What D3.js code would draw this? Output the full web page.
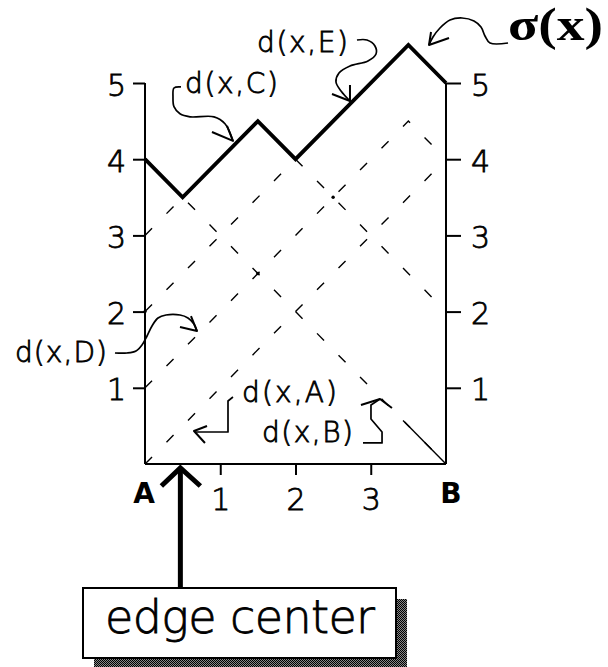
<!DOCTYPE html>
<html>
<head>
<meta charset="utf-8">
<script src="https://cdn.jsdelivr.net/npm/d3@7"></script>
<style>
  html, body { margin: 0; padding: 0; background: #fff; }
  svg { display: block; }
  text { font-family: "DejaVu Sans", "Liberation Sans", sans-serif; fill: #000; }
  .thin { font-weight: 200; stroke: #000; stroke-width: 0.8px; }
</style>
</head>
<body>
<svg id="chart" width="608" height="667"></svg>
<script>
// Distance functions along edge AB, each as [x, distance] vertices
const dA = [[0, 0], [4, 4]];
const dB = [[0, 4], [4, 0]];
const dC = [[0, 3], [1.5, 4.5], [4, 2]];
const dD = [[0, 1], [3.5, 4.5], [4, 4]];
const dE = [[0, 2], [3.5, 5.5], [4, 5]];
// Upper envelope sigma(x)
const sigma = [[0, 4], [0.5, 3.5], [1.5, 4.5], [2, 4], [3.5, 5.5], [4, 5]];
// Tail of d(x,B) drawn solid
const dBTail = [[3.45, 0.55], [4, 0]];
// Marked crossings
const crossings = [[1.5, 2.5], [2.5, 3.5], [0, 2]];
// Tick values
const yTicks = [1, 2, 3, 4, 5];
const xTicks = [1, 2, 3];
// Position of the edge center along AB
const edgeCenterX = 0.47;

const svg = d3.select("#chart");
const x = d3.scaleLinear().domain([0, 4]).range([145, 446]);
const y = d3.scaleLinear().domain([0, 5]).range([464, 83]);
const line = d3.line().x(d => x(d[0])).y(d => y(d[1]));

// dashed distance functions
const dashed = svg.append("g")
  .attr("fill", "none").attr("stroke", "#000")
  .attr("stroke-width", 1.4).attr("stroke-dasharray", "10,20.6");
[dA, dB, dC, dD, dE].forEach(s => dashed.append("path").attr("d", line(s)));

svg.append("path").attr("d", line(dBTail))
  .attr("fill", "none").attr("stroke", "#000").attr("stroke-width", 1.4);

svg.append("g").selectAll("circle").data(crossings).join("circle")
  .attr("cx", d => x(d[0])).attr("cy", d => y(d[1])).attr("r", 1.7).attr("fill", "#000");

// axes
const axisStyle = g => {
  g.select(".domain").remove();
  g.selectAll(".tick line").attr("stroke", "#000").attr("stroke-width", 2);
  g.selectAll(".tick text").attr("fill", "#000").attr("class", "thin")
    .attr("font-family", "DejaVu Sans, sans-serif").attr("font-size", 30);
};
svg.append("g").attr("transform", `translate(${x(0)},0)`)
  .call(d3.axisLeft(y).tickValues(yTicks).tickSize(12).tickPadding(7).tickFormat(d3.format("d")))
  .call(axisStyle)
  .call(g => g.selectAll(".tick text").attr("dy", "0.4em"));
svg.append("g").attr("transform", `translate(${x(4)},0)`)
  .call(d3.axisRight(y).tickValues(yTicks).tickSize(15).tickPadding(10).tickFormat(d3.format("d")))
  .call(axisStyle)
  .call(g => g.selectAll(".tick text").attr("dy", "0.4em"));
svg.append("g").attr("transform", `translate(0,${y(0)})`)
  .call(d3.axisBottom(x).tickValues(xTicks).tickSize(11).tickPadding(14).tickFormat(d3.format("d")))
  .call(axisStyle);

const frame = svg.append("g").attr("stroke", "#000").attr("stroke-width", 2).attr("fill", "none");
frame.append("line").attr("x1", x(0)).attr("x2", x(0)).attr("y1", y(0)).attr("y2", y(5));
frame.append("line").attr("x1", x(4)).attr("x2", x(4)).attr("y1", y(0)).attr("y2", y(5));
frame.append("line").attr("x1", x(0)).attr("x2", x(4)).attr("y1", y(0)).attr("y2", y(0));

// sigma(x)
svg.append("path").attr("d", line(sigma))
  .attr("fill", "none").attr("stroke", "#000").attr("stroke-width", 3.8)
  .attr("stroke-linejoin", "miter").attr("stroke-linecap", "butt");

// hand-drawn leaders to the labels (in chart units)
const leaders = [
  { pts: [[0.478, 4.948], [0.385, 4.934], [0.372, 4.816], [0.385, 4.69], [0.465, 4.596], [0.598, 4.556],
          [0.917, 4.556], [1.063, 4.465], [1.169, 4.24]],
    barbs: [[0.89, 4.357], [1.169, 4.24], [1.09, 4.436]], curve: d3.curveCatmullRom },
  { pts: [[2.817, 5.564], [2.95, 5.564], [3.056, 5.486], [3.07, 5.381], [2.963, 5.289], [2.724, 5.223],
          [2.578, 5.131], [2.538, 5.013], [2.605, 4.895], [2.724, 4.764]],
    barbs: [[2.485, 4.856], [2.724, 4.764], [2.724, 4.974]], curve: d3.curveCatmullRom },
  { pts: [[4.824, 5.525], [4.585, 5.525], [4.518, 5.617], [4.465, 5.735], [4.372, 5.814], [4.213, 5.853],
          [4.053, 5.827], [3.92, 5.722], [3.827, 5.604], [3.774, 5.499]],
    barbs: [[3.801, 5.669], [3.774, 5.499], [4.04, 5.591]], curve: d3.curveCatmullRom },
  { pts: [[-0.399, 1.457], [-0.239, 1.457], [-0.12, 1.483], [-0.04, 1.562], [0.027, 1.68], [0.093, 1.811],
          [0.173, 1.916], [0.279, 1.955], [0.465, 1.955], [0.571, 1.916], [0.651, 1.837], [0.691, 1.745]],
    barbs: [[0.465, 1.798], [0.691, 1.745], [0.611, 1.942]], curve: d3.curveCatmullRom },
  { pts: [[1.169, 0.879], [1.103, 0.827], [1.103, 0.42], [0.678, 0.42]],
    barbs: [[0.824, 0.499], [0.651, 0.433], [0.797, 0.276]], curve: d3.curveLinear },
  { pts: [[2.897, 0.276], [3.15, 0.276], [3.15, 0.42], [3.003, 0.591], [3.003, 0.774], [3.123, 0.853]],
    barbs: [[2.87, 0.774], [3.123, 0.853], [3.282, 0.735]], curve: d3.curveLinear }
];
const lg = svg.append("g").attr("fill", "none").attr("stroke", "#000")
  .attr("stroke-width", 1.7).attr("stroke-linejoin", "round");
leaders.forEach(l => {
  lg.append("path").attr("d", d3.line().x(d => x(d[0])).y(d => y(d[1])).curve(l.curve)(l.pts));
  lg.append("path").attr("d", line(l.barbs)).attr("stroke-width", 2);
});

// labels
const labels = [
  { t: "d(x,C)", at: [0.532, 4.869], w: 93 },
  { t: "d(x,E)", at: [1.488, 5.407], w: 91 },
  { t: "d(x,D)", at: [-1.728, 1.339], w: 92 },
  { t: "d(x,A)", at: [1.289, 0.814], w: 95 },
  { t: "d(x,B)", at: [1.555, 0.289], w: 91 }
];
svg.append("g").selectAll("text").data(labels).join("text")
  .attr("class", "thin")
  .attr("x", d => x(d.at[0])).attr("y", d => y(d.at[1]))
  .attr("font-size", 28).attr("textLength", d => d.w).attr("lengthAdjust", "spacing")
  .text(d => d.t);

svg.append("text").attr("x", x(4.824)).attr("y", y(5.564))
  .style("font-family", "'Liberation Serif', serif")
  .attr("font-weight", "bold").attr("font-size", 46)
  .attr("textLength", 95).attr("lengthAdjust", "spacingAndGlyphs")
  .text("σ(x)");

svg.append("text").attr("x", x(0) - 1).attr("y", 503).attr("text-anchor", "middle")
  .attr("font-weight", "bold").attr("font-size", 28).text("A");
svg.append("text").attr("x", x(4) + 5).attr("y", 503).attr("text-anchor", "middle")
  .attr("font-weight", "bold").attr("font-size", 28).text("B");

// edge center callout
const box = { left: 83, top: 588, width: 313, height: 70, shadow: 11 };
const defs = svg.append("defs");
const pat = defs.append("pattern").attr("id", "dither").attr("patternUnits", "userSpaceOnUse")
  .attr("width", 2).attr("height", 2);
pat.append("rect").attr("width", 2).attr("height", 2).attr("fill", "#888");
pat.append("rect").attr("width", 1).attr("height", 1).attr("fill", "#000");
pat.append("rect").attr("x", 1).attr("y", 1).attr("width", 1).attr("height", 1).attr("fill", "#000");

svg.append("rect").attr("x", box.left + box.shadow).attr("y", box.top + box.shadow)
  .attr("width", box.width).attr("height", box.height).attr("fill", "url(#dither)")
  .attr("shape-rendering", "crispEdges");
svg.append("rect").attr("x", box.left).attr("y", box.top)
  .attr("width", box.width).attr("height", box.height)
  .attr("fill", "#fff").attr("stroke", "#000").attr("stroke-width", 2);
svg.append("text").attr("class", "thin").attr("x", box.left + 22).attr("y", 633)
  .attr("font-size", 46).attr("textLength", 270).attr("lengthAdjust", "spacing")
  .text("edge center");

const ax = x(edgeCenterX);
const arrow = svg.append("g").attr("stroke", "#000").attr("stroke-width", 5).attr("fill", "none");
arrow.append("line").attr("x1", ax).attr("x2", ax).attr("y1", box.top).attr("y2", y(0) + 4);
arrow.append("path")
  .attr("d", `M${ax - 19},${y(0) + 22}L${ax},${y(0) + 4}L${ax + 20},${y(0) + 22}`)
  .attr("stroke-linejoin", "miter");
</script>
</body>
</html>
